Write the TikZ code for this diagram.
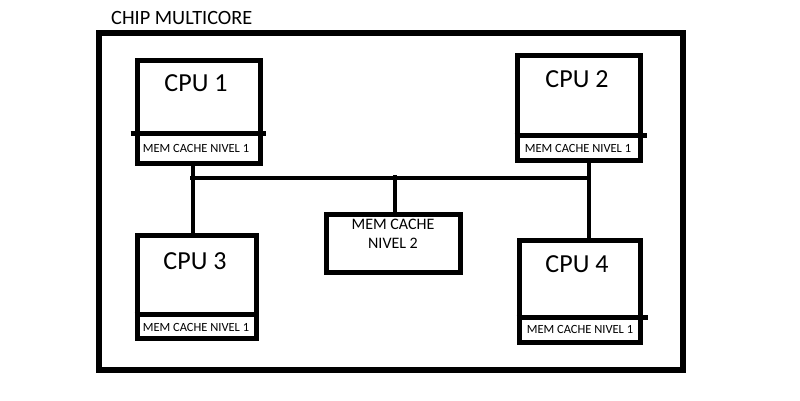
\documentclass[tikz,border=0pt]{standalone}
\usepackage{fontspec}
\setmainfont{Carlito}
\begin{document}
\begin{tikzpicture}[x=1pt,y=-1pt,
  box/.style={draw, line width=5pt, inner sep=0pt, fill=white},
  wire/.style={line width=4.5pt},
  divider/.style={line width=5pt},
  cputxt/.style={font=\fontsize{26}{29}\selectfont, inner sep=0pt},
  l1txt/.style={font=\fontsize{12.5}{14}\selectfont, inner sep=0pt},
  l2txt/.style={font=\fontsize{16}{18.5}\selectfont, inner sep=0pt, align=center},
  titletxt/.style={font=\fontsize{20.3}{22}\selectfont, inner sep=0pt, anchor=west}]
\useasboundingbox (0,0) rectangle (800,400);
\fill[white] (0,0) rectangle (800,400);
% outer chip
\node[box, line width=5.5pt, fill=none, minimum width=584pt, minimum height=337pt] (chip) at (391,201.5) {};
\node[titletxt] (title) at (111,18) {CHIP MULTICORE};
% bus coordinates
\coordinate (b1) at (193,178);
\coordinate (b2) at (589,178);
\coordinate (b3) at (395,178);
% divider levels
\coordinate (d1) at (0,133);
\coordinate (d2) at (0,135);
\coordinate (d3) at (0,314);
\coordinate (d4) at (0,317);
% CPU boxes
\node[box, minimum width=123pt, minimum height=103pt] (cpu1) at (198.5,111.5) {};
\node[box, minimum width=123pt, minimum height=105pt] (cpu2) at (578.5,107.5) {};
\node[box, minimum width=119pt, minimum height=103pt] (cpu3) at (196.5,286.5) {};
\node[box, minimum width=121pt, minimum height=102pt] (cpu4) at (579.5,291) {};
\node[box, minimum width=134pt, minimum height=58pt] (l2) at (393,243) {};
% dividers
\draw[divider] ([xshift=-4pt]cpu1.west |- d1) -- ([xshift=3pt]cpu1.east |- d1);
\draw[divider] (cpu2.west |- d2) -- ([xshift=4pt]cpu2.east |- d2);
\draw[divider] (cpu3.west |- d3) -- (cpu3.east |- d3);
\draw[divider] (cpu4.west |- d4) -- ([xshift=5pt]cpu4.east |- d4);
% texts
\node[cputxt] (cpu1t) at (196,83) {CPU 1};
\node[cputxt] (cpu2t) at (577,79) {CPU 2};
\node[cputxt] (cpu3t) at (195,261) {CPU 3};
\node[cputxt] (cpu4t) at (577,264) {CPU 4};
\node[l1txt] (cpu1c) at (196,148) {MEM CACHE NIVEL 1};
\node[l1txt] (cpu2c) at (578,148) {MEM CACHE NIVEL 1};
\node[l1txt] (cpu3c) at (196,327) {MEM CACHE NIVEL 1};
\node[l1txt] (cpu4c) at (580,329) {MEM CACHE NIVEL 1};
\node[l2txt] (l2t) at (393,234) {MEM CACHE\\NIVEL 2};
% connectors
\draw[wire] ([xshift=-3pt]b1) -- (b2);
\draw[wire] (b1 |- cpu1.south) -- (b1 |- cpu3.north);
\draw[wire] (b2 |- cpu2.south) -- (b2 |- cpu4.north);
\draw[wire] ([yshift=3pt]b3) -- (b3 |- l2.north);
\end{tikzpicture}
\end{document}
